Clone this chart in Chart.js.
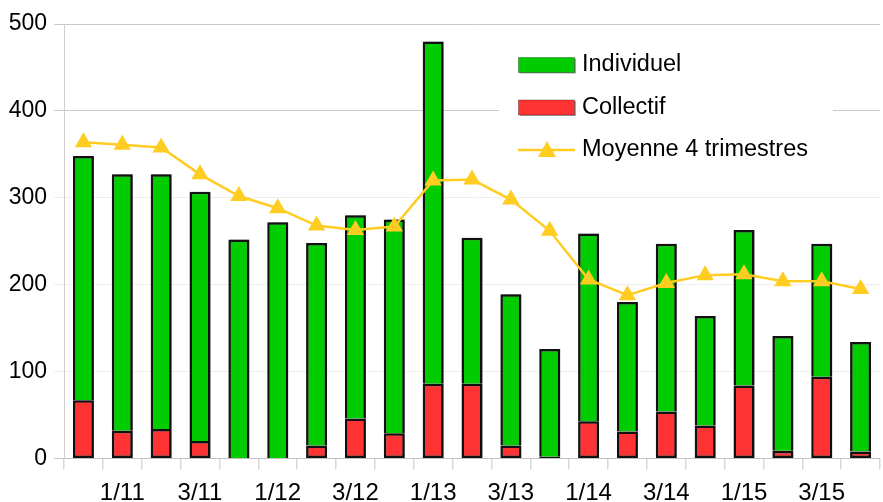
<!DOCTYPE html>
<html>
<head>
<meta charset="utf-8">
<script src="https://cdn.jsdelivr.net/npm/chart.js@4"></script>
<style>
  html, body { margin: 0; padding: 0; overflow: hidden; background: #fff; }
  #wrap { position: absolute; left: 0; top: 0; width: 890px; height: 502px; }
</style>
</head>
<body>
<div id="wrap"><canvas id="chart"></canvas></div>
<script>
// trimestres 4/10 .. 4/15
var quarters = ["4/10", "1/11", "2/11", "3/11", "4/11", "1/12", "2/12", "3/12", "4/12",
                "1/13", "2/13", "3/13", "4/13", "1/14", "2/14", "3/14", "4/14",
                "1/15", "2/15", "3/15", "4/15"];
var collectif = [67, 32, 34, 20, 0, 0, 15, 46, 29, 86, 86, 15, 2, 43, 31, 54, 38, 84, 9, 94, 8];
var individuel = [281, 295, 293, 287, 252, 272, 233, 234, 246, 394, 168, 174, 124, 216, 149, 193, 126, 179, 132, 153, 126];
var moyenne = [364, 361, 358, 327, 302, 288, 268, 263, 267, 320, 321, 298, 262, 206, 188, 202, 211, 212, 204, 204, 195];
var yTicks = [0, 100, 200, 300, 400, 500];

var green = '#00cc00';
var red = '#ff3333';
var gold = '#ffcc22';
var font = '"Liberation Sans", Arial, sans-serif';

// little grey shadow on the right of the bars
var barShadow = {
    id: 'barShadow',
    beforeDatasetDraw: function(chart, args) {
        if (args.meta.type !== 'bar') return;
        var ctx = chart.ctx;
        ctx.save();
        ctx.shadowColor = 'rgba(0,0,0,0.4)';
        ctx.shadowOffsetX = 1.5;
        ctx.shadowOffsetY = 0;
        ctx.shadowBlur = 0;
    },
    afterDatasetDraw: function(chart, args) {
        if (args.meta.type !== 'bar') return;
        chart.ctx.restore();
    }
};

// legend drawn inside the plot, top right
var insideLegend = {
    id: 'insideLegend',
    afterDraw: function(chart) {
        var ctx = chart.ctx;
        var ds = chart.data.datasets;
        var items = [ds[1], ds[0], ds[2]];
        ctx.save();
        ctx.fillStyle = '#fff';
        ctx.fillRect(499, 38, 334, 134);
        ctx.font = '23.5px ' + font;
        ctx.textBaseline = 'middle';
        items.forEach(function(d, i) {
            var y = 65 + i * 42.5;
            if (d.type === 'line') {
                ctx.strokeStyle = d.borderColor;
                ctx.lineWidth = 2.5;
                ctx.beginPath();
                ctx.moveTo(518, y);
                ctx.lineTo(575, y);
                ctx.stroke();
                ctx.fillStyle = d.borderColor;
                ctx.beginPath();
                ctx.moveTo(547, y - 9);
                ctx.lineTo(556, y + 7);
                ctx.lineTo(538, y + 7);
                ctx.closePath();
                ctx.fill();
            } else {
                ctx.fillStyle = 'rgba(0,0,0,0.35)';
                ctx.fillRect(520, y - 6.5, 56, 15);
                ctx.fillStyle = d.backgroundColor;
                ctx.fillRect(518.5, y - 7.5, 56, 15);
                ctx.strokeStyle = 'rgba(0,0,0,0.3)';
                ctx.lineWidth = 1;
                ctx.strokeRect(518.5, y - 7.5, 56, 15);
            }
            ctx.fillStyle = '#000';
            ctx.fillText(d.label, 582, y);
        });
        ctx.restore();
    }
};

var ctx = document.getElementById('chart').getContext('2d');
var config = {
    data: {
        labels: quarters,
        datasets: [{
            type: 'bar',
            label: 'Collectif',
            data: collectif,
            backgroundColor: red,
            borderColor: '#111',
            borderWidth: 2.5,
            borderSkipped: false,
            barPercentage: 0.54,
            categoryPercentage: 1.0,
            order: 1
        }, {
            type: 'bar',
            label: 'Individuel',
            data: individuel,
            backgroundColor: green,
            borderColor: '#111',
            borderWidth: 2.5,
            borderSkipped: 'start',
            barPercentage: 0.54,
            categoryPercentage: 1.0,
            order: 1
        }, {
            type: 'line',
            label: 'Moyenne 4 trimestres',
            data: moyenne,
            borderColor: gold,
            backgroundColor: gold,
            borderWidth: 2.5,
            pointStyle: 'triangle',
            pointRadius: 10,
            pointBorderWidth: 0,
            pointBackgroundColor: gold,
            tension: 0,
            order: 0
        }]
    },
    options: {
        responsive: true,
        maintainAspectRatio: false,
        animation: false,
        layout: { padding: { top: 24, left: 0, right: 0, bottom: 0 } },
        plugins: {
            legend: { display: false },
            tooltip: { enabled: false }
        },
        scales: {
            x: {
                stacked: true,
                grid: { display: true, drawOnChartArea: false, tickLength: 11, color: '#d8d8d8', lineWidth: 1.5, offset: true },
                border: { display: true, color: '#c0c0c0', width: 1 },
                ticks: {
                    autoSkip: false,
                    maxRotation: 0,
                    padding: 9,
                    color: '#000',
                    font: { size: 24, family: font },
                    callback: function(v, i) { return i % 2 === 1 ? quarters[i] : ''; }
                },
                afterFit: function(s) { s.height = 43.5; }
            },
            y: {
                stacked: true,
                min: 0,
                max: 500,
                afterBuildTicks: function(s) { s.ticks = yTicks.map(function(v) { return { value: v }; }); },
                grid: {
                    tickLength: 10,
                    color: function(c) {
                        var v = c.tick ? c.tick.value : 0;
                        return (v === 400 || v === 500 || v === 0) ? '#c8c8c8' : '#eeeeee';
                    }
                },
                border: { display: true, color: '#d0d0d0', width: 1 },
                ticks: {
                    padding: 7,
                    color: '#000',
                    font: { size: 23, family: font }
                },
                afterFit: function(s) { s.width = 64; }
            }
        }
    },
    plugins: [barShadow, insideLegend]
};

var chart = new Chart(ctx, config);
</script>
</body>
</html>
